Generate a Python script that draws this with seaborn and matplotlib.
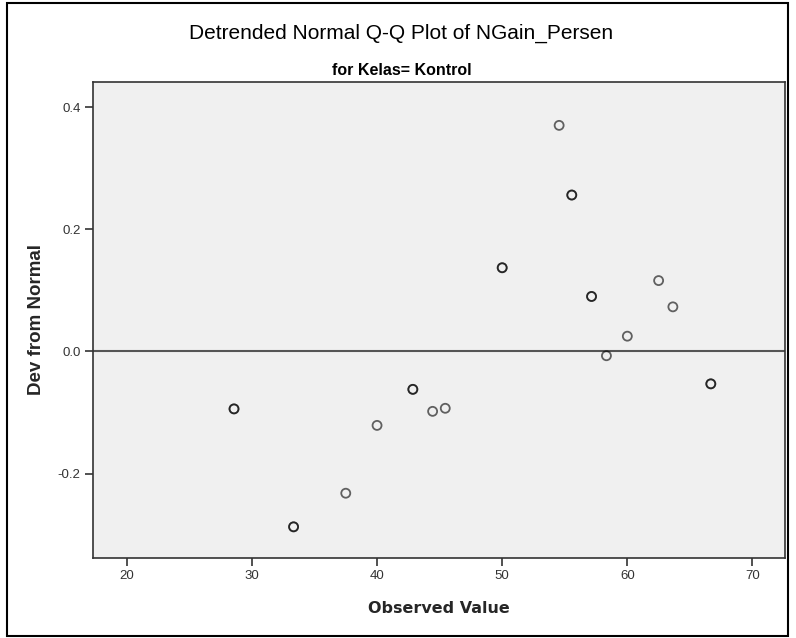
import numpy as np
import pandas as pd
import matplotlib
matplotlib.use("Agg")
import matplotlib.pyplot as plt
import seaborn as sns
from matplotlib.patches import Rectangle
from matplotlib.ticker import FormatStrFormatter

# Observed NGain_Persen values (Kelas = Kontrol); repeated values overlap
observed = [28.57, 28.57, 33.33, 33.33, 37.50, 40.00, 42.86, 42.86, 44.44,
            45.45, 50.00, 50.00, 54.55, 55.56, 55.56, 57.14, 57.14, 58.33,
            60.00, 62.50, 63.64, 66.67, 66.67]
# Deviation from normal
dev_normal = [-0.094, -0.094, -0.287, -0.287, -0.232, -0.121, -0.062, -0.062,
              -0.098, -0.093, 0.137, 0.137, 0.370, 0.256, 0.256, 0.090, 0.090,
              -0.007, 0.025, 0.116, 0.073, -0.053, -0.053]

x_ticks = [20, 30, 40, 50, 60, 70]
y_ticks = [-0.2, 0.0, 0.2, 0.4]

df = pd.DataFrame({"Observed Value": observed, "Dev from Normal": dev_normal})

sns.set_theme(style="white")
plt.rcParams["font.family"] = ["Liberation Sans", "DejaVu Sans"]

fig = plt.figure(figsize=(7.96, 6.38), dpi=100)
ax = fig.add_axes([0.1168, 0.1254, 0.8694, 0.7461])
ax.set_facecolor("#f0f0f0")

ax.axhline(0, color="#555555", linewidth=1.5, zorder=1)
sns.scatterplot(data=df, x="Observed Value", y="Dev from Normal", ax=ax,
                marker="o", s=42, facecolor="none", edgecolor="black",
                linewidth=1.3, alpha=0.6, zorder=3)

ax.set_xlim(17.3, 72.6)
ax.set_ylim(-0.338, 0.441)
ax.set_xticks(x_ticks)
ax.set_yticks(y_ticks)
ax.yaxis.set_major_formatter(FormatStrFormatter("%.1f"))
ax.tick_params(axis="both", direction="out", length=6, width=1.2,
               color="#333333", labelcolor="#333333", labelsize=9.5,
               bottom=True, left=True, pad=3)
for sp in ax.spines.values():
    sp.set_color("#333333")
    sp.set_linewidth(1.2)

ax.set_xlabel("Observed Value", fontsize=11.5, fontweight="bold",
              family="DejaVu Sans", labelpad=13)
ax.set_ylabel("Dev from Normal", fontsize=13.5, fontweight="bold", labelpad=9)

fig.text(0.504, 0.947, "Detrended Normal Q-Q Plot of NGain_Persen",
         ha="center", va="center", fontsize=15, color="black")
fig.text(0.505, 0.890, "for Kelas= Kontrol", ha="center", va="center",
         fontsize=11.5, fontweight="bold", color="black")

# outer frame around the whole chart
fig.patches.append(Rectangle((0.009, 0.003), 0.981, 0.992, transform=fig.transFigure,
                             fill=False, edgecolor="black", linewidth=1.5))

fig.savefig("out.png", dpi=100)
plt.close(fig)
